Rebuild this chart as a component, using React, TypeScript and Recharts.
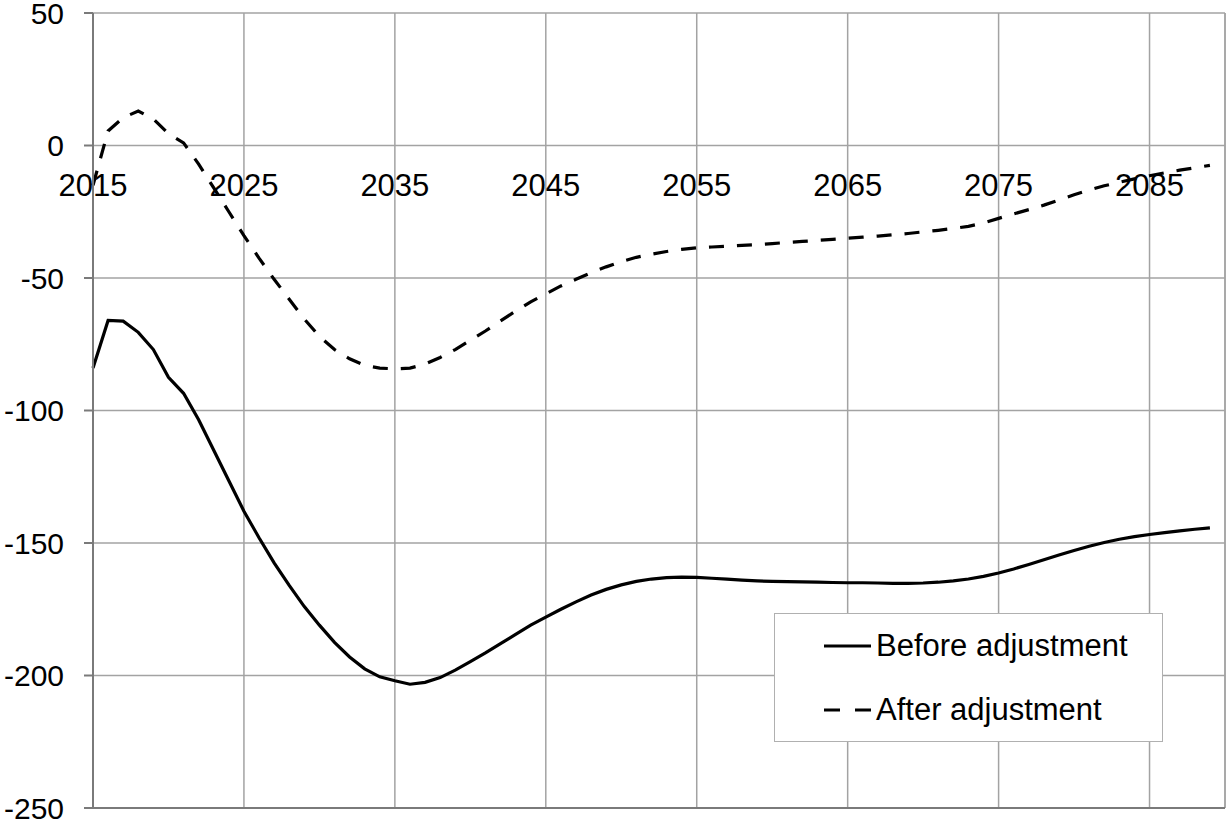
import React from 'react'
import {
  LineChart,
  Line,
  XAxis,
  YAxis,
  CartesianGrid,
  ReferenceLine,
  Legend,
} from 'recharts'

// Years 2015..2089, one value per year
const years = [
  2015, 2016, 2017, 2018, 2019, 2020, 2021, 2022, 2023, 2024,
  2025, 2026, 2027, 2028, 2029, 2030, 2031, 2032, 2033, 2034,
  2035, 2036, 2037, 2038, 2039, 2040, 2041, 2042, 2043, 2044,
  2045, 2046, 2047, 2048, 2049, 2050, 2051, 2052, 2053, 2054,
  2055, 2056, 2057, 2058, 2059, 2060, 2061, 2062, 2063, 2064,
  2065, 2066, 2067, 2068, 2069, 2070, 2071, 2072, 2073, 2074,
  2075, 2076, 2077, 2078, 2079, 2080, 2081, 2082, 2083, 2084,
  2085, 2086, 2087, 2088, 2089,
]

const beforeAdjustment = [
  -84, -66, -66.3, -70.5, -77, -87.5, -93.5, -103.5, -115, -126.5,
  -138, -148, -157.5, -166, -174, -181, -187.5, -193, -197.5, -200.5,
  -202, -203.3, -202.6, -200.8, -198, -194.8, -191.5, -188, -184.5, -181,
  -178, -175, -172.2, -169.6, -167.5, -165.8, -164.5, -163.6, -163.1, -162.9,
  -163, -163.3, -163.6, -164, -164.3, -164.5, -164.6, -164.7, -164.8, -164.9,
  -165, -165, -165.1, -165.2, -165.2, -165.1, -164.8, -164.3, -163.6, -162.6,
  -161.3, -159.8, -158.1, -156.3, -154.5, -152.8, -151.2, -149.8, -148.6, -147.6,
  -146.8, -146.1, -145.4, -144.8, -144.3,
]

const afterAdjustment = [
  -15, 5.5, 10.5, 13, 10, 4.5, 1, -7, -16, -25,
  -34, -42.5, -50.5, -58, -65.5, -72, -77, -80.5, -83, -84,
  -84.3, -84, -82.5, -80, -77, -73.5, -70, -66.2, -62.5, -59,
  -56, -53, -50.5, -48, -45.8, -43.8, -42.2, -41, -40, -39.2,
  -38.6, -38.3, -38, -37.7, -37.4, -37, -36.6, -36.2, -35.8, -35.4,
  -35, -34.6, -34.2, -33.7, -33.2, -32.6, -32, -31.3, -30.5, -29.2,
  -27.5, -25.8, -24.2, -22.5, -20.6, -18.6, -16.8, -15.2, -13.9, -12.6,
  -11.4, -10.3, -9.3, -8.4, -7.5,
]

const xTicks = [2015, 2025, 2035, 2045, 2055, 2065, 2075, 2085]
const yTicks = [50, 0, -50, -100, -150, -200, -250]
const seriesNames = ['Before adjustment', 'After adjustment']

const data = years.map((year, i) => ({
  year,
  before: beforeAdjustment[i],
  after: afterAdjustment[i],
}))

const WIDTH = 1228
const HEIGHT = 822
const X_AXIS_H = 14
const MARGIN = { top: 13, right: 3, bottom: 0, left: 0 }
const Y_MIN = -250
const Y_MAX = 50
const PLOT_H = HEIGHT - MARGIN.top - MARGIN.bottom - X_AXIS_H
const ZERO_Y = MARGIN.top + (PLOT_H * Y_MAX) / (Y_MAX - Y_MIN)

const FONT = '"Liberation Sans", Arial, sans-serif'
const Y_FONT_SIZE = 30
const X_FONT_SIZE = 31
const LEGEND_FONT_SIZE = 31
const DASH = '15 13'

// x labels sit under the zero line, not at the bottom of the plot
const XTick = (props: any) => {
  const { x, payload } = props
  return (
    <text
      x={x}
      y={ZERO_Y + 50}
      textAnchor="middle"
      fill="#000"
      fontSize={X_FONT_SIZE}
      fontFamily={FONT}
    >
      {payload.value}
    </text>
  )
}

const LegendBox = () => (
  <div
    style={{
      width: 389,
      height: 129,
      boxSizing: 'border-box',
      border: '1px solid #b0b0b0',
      background: '#fff',
      fontFamily: FONT,
      fontSize: LEGEND_FONT_SIZE,
      color: '#000',
      paddingLeft: 49,
      paddingTop: 15,
    }}
  >
    {seriesNames.map((name, i) => (
      <div key={name} style={{ display: 'flex', alignItems: 'center', height: 33, marginBottom: i === 0 ? 31 : 0 }}>
        <svg width={50} height={6} style={{ marginRight: 2 }}>
          <line
            x1={0}
            y1={3}
            x2={47}
            y2={3}
            stroke="#000"
            strokeWidth={3}
            strokeDasharray={i === 1 ? '16 15' : undefined}
          />
        </svg>
        <span>{name}</span>
      </div>
    ))}
  </div>
)

export default function App() {
  return (
    <div style={{ position: 'absolute', left: 0, top: 0, background: '#fff' }}>
      <LineChart width={WIDTH} height={HEIGHT} data={data} margin={MARGIN}>
        <CartesianGrid stroke="#a3a3a3" strokeWidth={1.5} />
        <XAxis
          dataKey="year"
          type="number"
          domain={[2015, 2090]}
          ticks={xTicks}
          height={X_AXIS_H}
          axisLine={{ stroke: '#7a7a7a', strokeWidth: 2 }}
          tickLine={false}
          tick={XTick}
          interval={0}
        />
        <YAxis
          type="number"
          domain={[Y_MIN, Y_MAX]}
          ticks={yTicks}
          width={93}
          interval={0}
          tickSize={9}
          tickMargin={20}
          axisLine={{ stroke: '#7a7a7a', strokeWidth: 2 }}
          tickLine={{ stroke: '#7a7a7a', strokeWidth: 2 }}
          tick={{ fill: '#000', fontSize: Y_FONT_SIZE, fontFamily: FONT }}
        />
        <ReferenceLine x={2090} stroke="#a3a3a3" strokeWidth={1.5} />
        <Legend
          verticalAlign="middle"
          align="center"
          content={<LegendBox />}
          wrapperStyle={{ left: 774, top: 613, width: 389, height: 129 }}
        />
        <Line
          type="linear"
          dataKey="before"
          name={seriesNames[0]}
          stroke="#000"
          strokeWidth={3.2}
          dot={false}
          isAnimationActive={false}
        />
        <Line
          type="linear"
          dataKey="after"
          name={seriesNames[1]}
          stroke="#000"
          strokeWidth={3.2}
          strokeDasharray={DASH}
          dot={false}
          isAnimationActive={false}
        />
      </LineChart>
    </div>
  )
}
